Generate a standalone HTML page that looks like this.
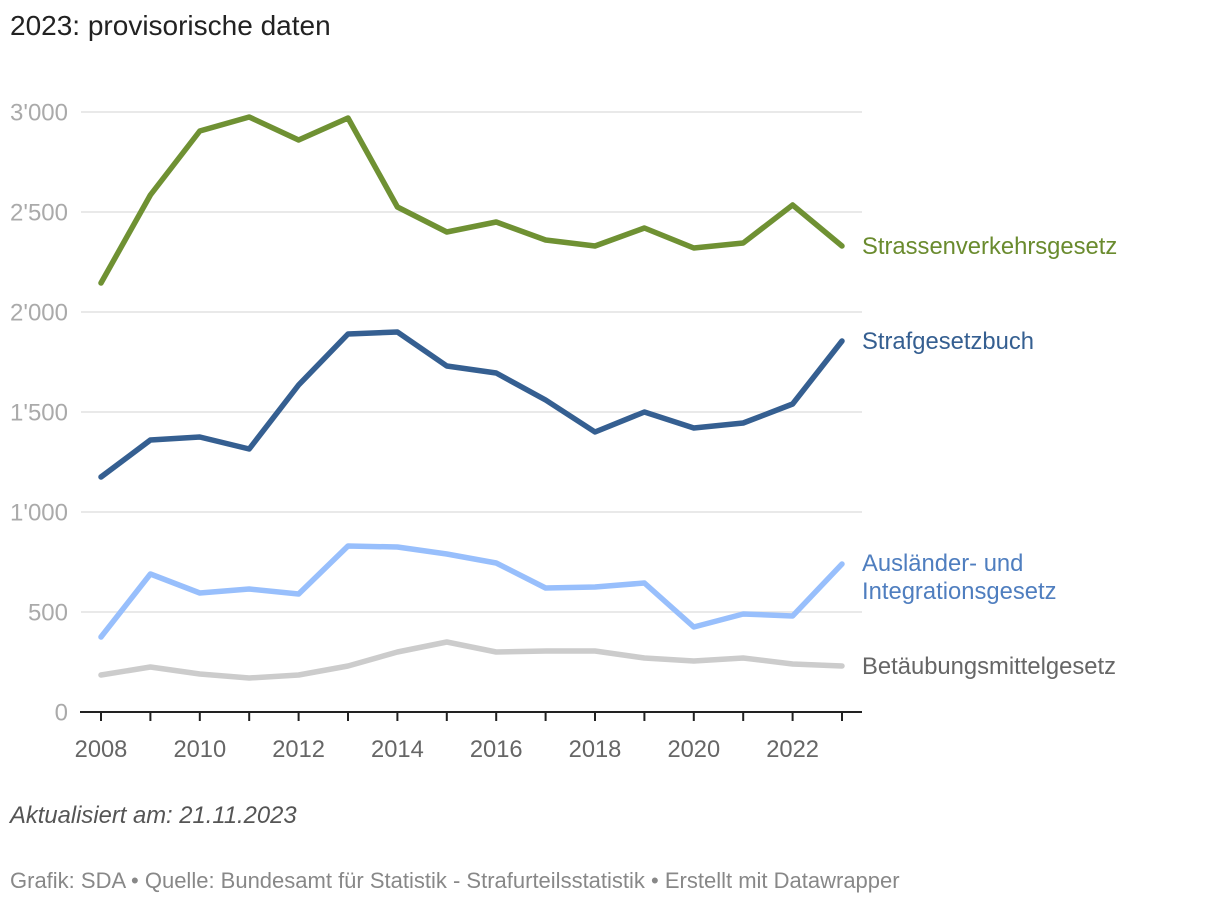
<!DOCTYPE html>
<html><head><meta charset="utf-8"><style>
body{margin:0;background:#fff;font-family:"Liberation Sans",sans-serif;}
#wrap{position:relative;width:1220px;height:904px;overflow:hidden}
.t{position:absolute;white-space:nowrap}
</style></head><body><div id="wrap">
<div class="t" style="left:10px;top:10px;font-size:28px;color:#222">2023: provisorische daten</div>
<svg id="c" width="1220" height="904" style="position:absolute;left:0;top:0"></svg>
<div class="t" style="left:10px;top:802px;font-size:23.8px;font-style:italic;color:#555">Aktualisiert am: 21.11.2023</div>
<div class="t" style="left:10px;top:868px;font-size:22px;color:#888">Grafik: SDA • Quelle: Bundesamt für Statistik - Strafurteilsstatistik • Erstellt mit Datawrapper</div>
</div>
<script>
const years=[2008,2009,2010,2011,2012,2013,2014,2015,2016,2017,2018,2019,2020,2021,2022,2023];
const svgValues=[2145,2585,2905,2975,2860,2970,2525,2400,2450,2360,2330,2420,2320,2345,2535,2330];
const stgbValues=[1175,1360,1375,1315,1635,1890,1900,1730,1695,1560,1400,1500,1420,1445,1540,1855];
const aigValues=[375,690,595,615,590,830,825,790,745,620,625,645,425,490,480,740];
const btmgValues=[185,225,190,170,185,230,300,350,300,305,305,270,255,270,240,230];
const yTicks=[0,500,1000,1500,2000,2500,3000];
const yTickLabels=["0","500","1'000","1'500","2'000","2'500","3'000"];
const xTicks=[2008,2010,2012,2014,2016,2018,2020,2022];
const NS="http://www.w3.org/2000/svg";
const svg=document.getElementById('c');
const X=y=>101+(y-2008)*(842-101)/15;
const Y=v=>712-v*0.2;
function mk(tag,attrs){const e=document.createElementNS(NS,tag);for(const k in attrs)e.setAttribute(k,attrs[k]);svg.appendChild(e);return e;}
yTicks.forEach((v,i)=>{
  if(v>0){const g=mk('line',{x1:81,x2:862,y1:Y(v),y2:Y(v),stroke:'#e2e2e2','stroke-width':1.5});
  
  }
  const t=mk('text',{x:68,y:Y(v)+8.5,'text-anchor':'end','font-size':24,fill:'#aaa'});
  t.textContent=yTickLabels[i];
  
  
});
const ax=mk('line',{x1:80,x2:862,y1:712,y2:712,stroke:'#222','stroke-width':2});


years.forEach(y=>{const tk=mk('line',{x1:X(y),x2:X(y),y1:712,y2:721,stroke:'#222','stroke-width':2});

});
xTicks.forEach(y=>{const t=mk('text',{x:X(y),y:757,'text-anchor':'middle','font-size':23.7,fill:'#666'});
t.textContent=y;

});
const series=[
 {v:btmgValues,c:'#cccccc',n:'line-betaeubungsmittelgesetz'},
 {v:aigValues,c:'#98bffc',n:'line-auslaender-integrationsgesetz'},
 {v:stgbValues,c:'#355f91',n:'line-strafgesetzbuch'},
 {v:svgValues,c:'#6f9133',n:'line-strassenverkehrsgesetz'}];
series.forEach(s=>{
 const p=mk('polyline',{points:s.v.map((v,i)=>X(years[i])+','+Y(v)).join(' '),fill:'none',stroke:s.c,'stroke-width':5.5,'stroke-linejoin':'round','stroke-linecap':'round'});
 
 
});
const labels=[
 {t:['Strassenverkehrsgesetz'],y:Y(svgValues[15])+8,c:'#6a8b2e',n:'label-strassenverkehrsgesetz'},
 {t:['Strafgesetzbuch'],y:Y(stgbValues[15])+8,c:'#355f91',n:'label-strafgesetzbuch'},
 {t:['Ausländer- und','Integrationsgesetz'],y:Y(aigValues[15])+7,c:'#4f7ebf',n:'label-auslaender-integrationsgesetz'},
 {t:['Betäubungsmittelgesetz'],y:Y(btmgValues[15])+8,c:'#666',n:'label-betaeubungsmittelgesetz'}];
labels.forEach(l=>{
 const t=mk('text',{x:862,y:l.y,'font-size':23.8,fill:l.c});
 l.t.forEach((s,i)=>{const ts=document.createElementNS(NS,'tspan');ts.setAttribute('x',862);ts.setAttribute('dy',i?28:0);ts.textContent=s;t.appendChild(ts);});
 
 
});
</script></body></html>
